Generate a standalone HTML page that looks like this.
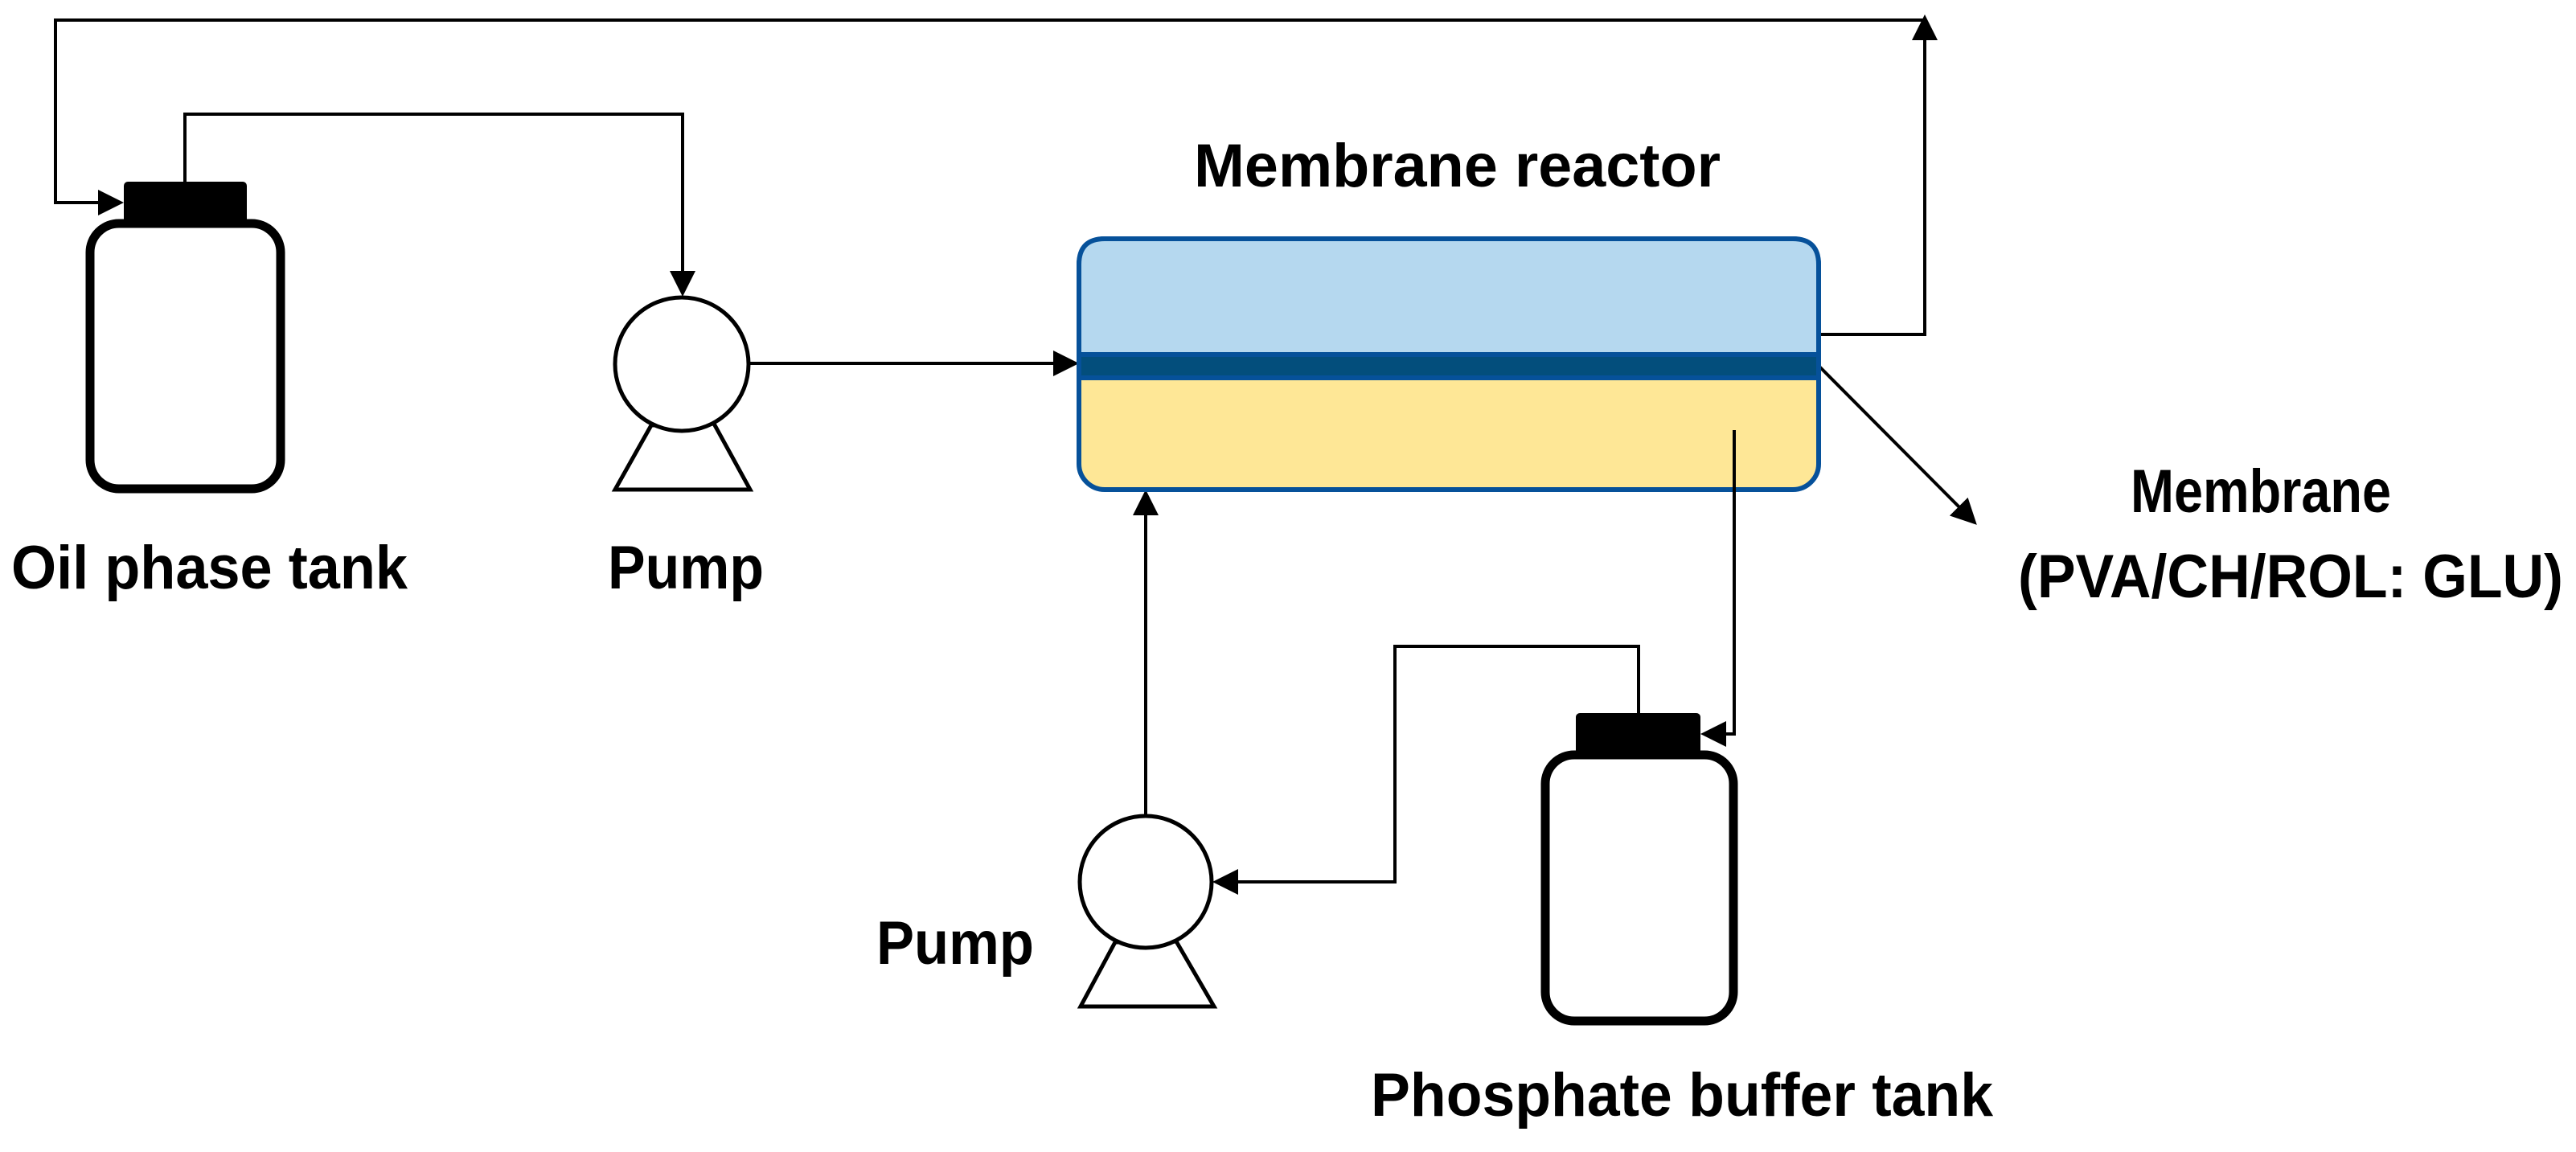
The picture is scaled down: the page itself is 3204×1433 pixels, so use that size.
<!DOCTYPE html>
<html><head><meta charset="utf-8"><style>html,body{margin:0;padding:0;background:#fff}svg{display:block}</style></head>
<body>
<svg width="3204" height="1433" viewBox="0 0 3204 1433" xmlns="http://www.w3.org/2000/svg">
<defs>
<marker id="ah" markerWidth="8" markerHeight="8" refX="7" refY="4" orient="auto" markerUnits="strokeWidth">
<path d="M0,0 L8,4 L0,8 z" fill="#000"/>
</marker>
</defs>
<g fill="none" stroke="#000" stroke-width="4">
<polyline points="2262,416 2394,416 2394,30"/>
<path d="M2394,52 L2394,22" marker-end="url(#ah)"/>
<polyline points="2394,25 69,25 69,252 150,252" marker-end="url(#ah)"/>
<polyline points="230,226 230,142 849,142 849,365" marker-end="url(#ah)"/>
<polyline points="932,452 1338,452" marker-end="url(#ah)"/>
<path d="M2262,455 L2456,650" marker-end="url(#ah)"/>
<polyline points="2038,887 2038,804 1735,804 1735,1097 1512,1097" marker-end="url(#ah)"/>
<polyline points="1425,1013 1425,613" marker-end="url(#ah)"/>
</g>
<rect x="1342" y="297" width="920" height="312" rx="32" ry="32" fill="#fee796" stroke="#06519a" stroke-width="6"/>
<path d="M1342,441 L1342,329 Q1342,297 1374,297 L2230,297 Q2262,297 2262,329 L2262,441 Z" fill="#b5d8ef" stroke="#06519a" stroke-width="6"/>
<rect x="1342" y="441" width="920" height="29" fill="#034e7c" stroke="#06519a" stroke-width="6"/>
<polyline points="2157,535 2157,913 2119,913" fill="none" stroke="#000" stroke-width="4" marker-end="url(#ah)"/>
<rect x="154" y="226" width="153" height="56" rx="5" fill="#000"/>
<rect x="112" y="278" width="237" height="330" rx="36" fill="#fff" stroke="#000" stroke-width="11"/>
<rect x="1960" y="887" width="155" height="56" rx="5" fill="#000"/>
<rect x="1922" y="939" width="234" height="331" rx="36" fill="#fff" stroke="#000" stroke-width="11"/>
<g fill="#fff" stroke="#000" stroke-width="5">
<polygon points="810,529 888,527 933,609 765,609"/>
<circle cx="848" cy="453" r="83"/>
<polygon points="1387,1172 1463,1171 1510,1252 1344,1252"/>
<circle cx="1425" cy="1097" r="82"/>
</g>
<g font-family="'Liberation Sans', sans-serif" font-weight="bold" font-size="76" fill="#000">
<text x="14" y="732" textLength="493" lengthAdjust="spacingAndGlyphs">Oil phase tank</text>
<text x="756" y="732" textLength="194" lengthAdjust="spacingAndGlyphs">Pump</text>
<text x="1090" y="1199" textLength="196" lengthAdjust="spacingAndGlyphs">Pump</text>
<text x="1485" y="232" textLength="655" lengthAdjust="spacingAndGlyphs">Membrane reactor</text>
<text x="2650" y="637" textLength="324" lengthAdjust="spacingAndGlyphs">Membrane</text>
<text x="2510" y="743" textLength="678" lengthAdjust="spacingAndGlyphs">(PVA/CH/ROL: GLU)</text>
<text x="1705" y="1388" textLength="774" lengthAdjust="spacingAndGlyphs">Phosphate buffer tank</text>
</g>
</svg>
</body></html>
